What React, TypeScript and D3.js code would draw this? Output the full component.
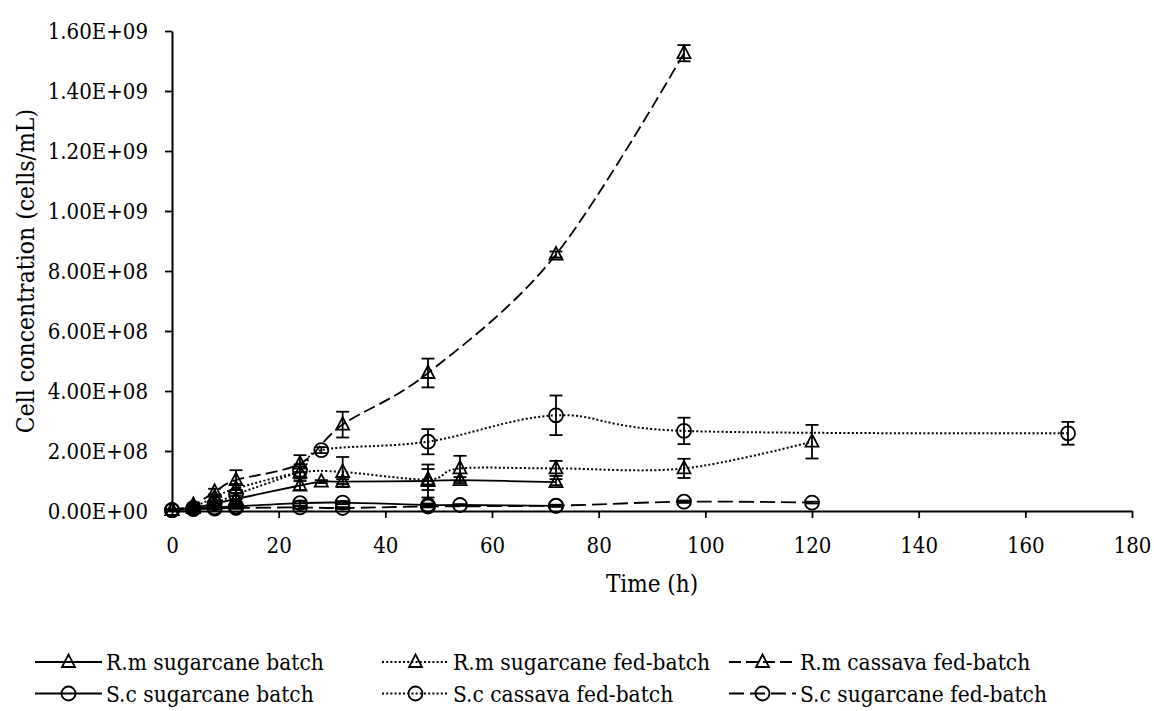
import React, { useEffect, useRef } from 'react';
import * as d3 from 'd3';

const WIDTH = 1154;
const HEIGHT = 711;
const FONT = "'DejaVu Serif', serif";

// R.m = Rhodotorula, S.c = Saccharomyces (values in cells/mL, time in h)
const rmBatchTime = [0, 4, 8, 12, 24, 28, 32, 48, 54, 72];
const rmBatchCells = [0.3e7, 1.0e7, 2.5e7, 4.0e7, 8.5e7, 9.8e7, 9.8e7, 1.0e8, 1.03e8, 9.6e7];
const rmBatchErr = [0.2e7, 0.3e7, 0.5e7, 1.0e7, 1.5e7, 0.5e7, 0.8e7, 5.5e7, 1.0e7, 1.0e7];

const rmFedTime = [0, 4, 8, 12, 24, 32, 48, 54, 72, 96, 120];
const rmFedCells = [0.3e7, 1.5e7, 4.5e7, 7.5e7, 1.28e8, 1.3e8, 1.05e8, 1.42e8, 1.42e8, 1.42e8, 2.31e8];
const rmFedErr = [0.2e7, 0.5e7, 1.0e7, 1.5e7, 2.0e7, 5.0e7, 3.5e7, 4.2e7, 2.5e7, 3.2e7, 5.6e7];

const rmCassavaTime = [0, 4, 8, 12, 24, 32, 48, 72, 96];
const rmCassavaCells = [0.3e7, 2.0e7, 6.4e7, 1.03e8, 1.58e8, 2.88e8, 4.6e8, 8.55e8, 1.526e9];
const rmCassavaErr = [0.2e7, 0.5e7, 1.0e7, 3.3e7, 2.8e7, 4.3e7, 4.8e7, 1.0e7, 2.7e7];

const scBatchTime = [0, 4, 8, 12, 24, 32, 48, 54, 72];
const scBatchCells = [0.3e7, 0.8e7, 1.2e7, 1.5e7, 2.6e7, 2.8e7, 2.0e7, 2.0e7, 1.7e7];
const scBatchErr = [0.2e7, 0.3e7, 0.5e7, 0.5e7, 0.8e7, 0.5e7, 0.5e7, 0.3e7, 0.3e7];

const scCassavaTime = [0, 4, 8, 12, 24, 28, 48, 72, 96, 168];
const scCassavaCells = [0.3e7, 1.0e7, 2.5e7, 5.5e7, 1.35e8, 2.03e8, 2.31e8, 3.19e8, 2.67e8, 2.59e8];
const scCassavaErr = [0.2e7, 0.5e7, 1.0e7, 1.5e7, 2.0e7, 1.0e7, 4.2e7, 6.6e7, 4.4e7, 3.8e7];

const scFedTime = [0, 4, 8, 12, 24, 32, 48, 72, 96, 120];
const scFedCells = [0.3e7, 0.6e7, 0.8e7, 1.0e7, 1.2e7, 1.0e7, 1.5e7, 1.8e7, 3.1e7, 2.8e7];
const scFedErr = [0.2e7, 0.2e7, 0.3e7, 0.3e7, 0.4e7, 0.3e7, 0.3e7, 0.3e7, 0.4e7, 0.3e7];

const xTicks = [0, 20, 40, 60, 80, 100, 120, 140, 160, 180];
const yTicks = [0, 2e8, 4e8, 6e8, 8e8, 1e9, 1.2e9, 1.4e9, 1.6e9];

const series = [
  { name: 'R.m sugarcane batch', t: rmBatchTime, v: rmBatchCells, e: rmBatchErr, marker: 'tri', dash: null, row: 0, col: 0 },
  { name: 'R.m sugarcane fed-batch', t: rmFedTime, v: rmFedCells, e: rmFedErr, marker: 'tri', dash: '2,2.2', row: 0, col: 1 },
  { name: 'R.m cassava fed-batch', t: rmCassavaTime, v: rmCassavaCells, e: rmCassavaErr, marker: 'tri', dash: '12,5', row: 0, col: 2 },
  { name: 'S.c sugarcane batch', t: scBatchTime, v: scBatchCells, e: scBatchErr, marker: 'circle', dash: null, row: 1, col: 0 },
  { name: 'S.c cassava fed-batch', t: scCassavaTime, v: scCassavaCells, e: scCassavaErr, marker: 'circle', dash: '2,2.2', row: 1, col: 1 },
  { name: 'S.c sugarcane fed-batch', t: scFedTime, v: scFedCells, e: scFedErr, marker: 'circle', dash: '15,6', row: 1, col: 2 },
];

const sci = (v: number) => {
  const [m, ex] = v.toExponential(2).split('e');
  return `${m}E${ex[0]}${ex.slice(1).padStart(2, '0')}`;
};

const drawMarker = (g: any, kind: string, cx: number, cy: number) => {
  if (kind === 'tri') {
    g.append('path')
      .attr('d', `M${cx},${cy - 7.5}L${cx + 6.5},${cy + 5}L${cx - 6.5},${cy + 5}Z`)
      .attr('fill', 'none')
      .attr('stroke', '#000')
      .attr('stroke-width', 1.8);
  } else {
    g.append('circle')
      .attr('cx', cx)
      .attr('cy', cy)
      .attr('r', 7)
      .attr('fill', 'none')
      .attr('stroke', '#000')
      .attr('stroke-width', 1.8);
  }
};

const App = () => {
  const ref = useRef<SVGSVGElement>(null);

  useEffect(() => {
    const svg = d3.select(ref.current);
    svg.selectAll('*').remove();

    const x = d3.scaleLinear().domain([0, 180]).range([172, 1132]);
    const y = d3.scaleLinear().domain([0, 1.6e9]).range([511, 31]);

    const line = d3
      .line<[number, number]>()
      .x((d) => x(d[0]))
      .y((d) => y(d[1]))
      .curve(d3.curveCardinal.tension(0));

    const plot = svg.append('g');

    series.forEach((s) => {
      const pts = s.t.map((t, i) => [t, s.v[i]] as [number, number]);
      plot
        .append('path')
        .attr('d', line(pts))
        .attr('fill', 'none')
        .attr('stroke', '#000')
        .attr('stroke-width', s.dash && s.dash.startsWith('2') ? 2 : 1.8)
        .attr('stroke-dasharray', s.dash ?? null);
    });

    // error bars
    series.forEach((s) => {
      s.t.forEach((t, i) => {
        const cx = x(t);
        const top = y(s.v[i] + s.e[i]);
        const bot = y(Math.max(0, s.v[i] - s.e[i]));
        const eb = plot.append('g').attr('stroke', '#000').attr('stroke-width', 1.8);
        eb.append('line').attr('x1', cx).attr('x2', cx).attr('y1', top).attr('y2', bot);
        eb.append('line').attr('x1', cx - 6.5).attr('x2', cx + 6.5).attr('y1', top).attr('y2', top);
        eb.append('line').attr('x1', cx - 6.5).attr('x2', cx + 6.5).attr('y1', bot).attr('y2', bot);
      });
    });

    series.forEach((s) => {
      s.t.forEach((t, i) => drawMarker(plot, s.marker, x(t), y(s.v[i])));
    });

    // axes
    const yAxis = svg
      .append('g')
      .attr('transform', 'translate(172,0)')
      .call(d3.axisLeft(y).tickValues(yTicks).tickFormat((d: any) => sci(d)).tickSize(7).tickSizeOuter(0).tickPadding(17));
    const xAxis = svg
      .append('g')
      .attr('transform', 'translate(0,511)')
      .call(d3.axisBottom(x).tickValues(xTicks).tickSize(7).tickSizeOuter(0).tickPadding(19));

    [yAxis, xAxis].forEach((a) => {
      a.attr('font-family', null).attr('font-size', null);
      a.select('.domain').attr('stroke', '#000').attr('stroke-width', 2);
      a.selectAll('.tick line').attr('stroke', '#000').attr('stroke-width', 1.8);
      a.selectAll('.tick text')
        .attr('fill', '#000')
        .style('font-family', FONT)
        .style('font-stretch', 'condensed')
        .style('font-size', '22px');
    });

    svg
      .append('text')
      .attr('x', 652)
      .attr('y', 592)
      .attr('text-anchor', 'middle')
      .style('font-family', FONT)
      .style('font-stretch', 'condensed')
      .style('font-size', '24px')
      .text('Time (h)');

    svg
      .append('text')
      .attr('transform', 'translate(33.5,271) rotate(-90)')
      .attr('text-anchor', 'middle')
      .style('font-family', FONT)
      .style('font-stretch', 'condensed')
      .style('font-size', '24.5px')
      .text('Cell concentration (cells/mL)');

    // legend
    const legend = svg.append('g');
    series.forEach((s) => {
      const lx = 35 + s.col * 347;
      const ly = 662 + s.row * 31.5;
      legend
        .append('line')
        .attr('x1', lx)
        .attr('x2', lx + 67)
        .attr('y1', ly)
        .attr('y2', ly)
        .attr('stroke', '#000')
        .attr('stroke-width', 1.8)
        .attr('stroke-dasharray', s.dash ?? null);
      drawMarker(legend, s.marker, lx + 33.5, ly);
      legend
        .append('text')
        .attr('x', lx + 71)
        .attr('y', ly + 8)
        .style('font-family', FONT)
        .style('font-stretch', 'condensed')
        .style('font-size', '22.5px')
        .text(s.name);
    });
  }, []);

  return (
    <svg
      ref={ref}
      width={WIDTH}
      height={HEIGHT}
      style={{ position: 'absolute', left: 0, top: 0, background: '#fff' }}
    />
  );
};

export default App;
